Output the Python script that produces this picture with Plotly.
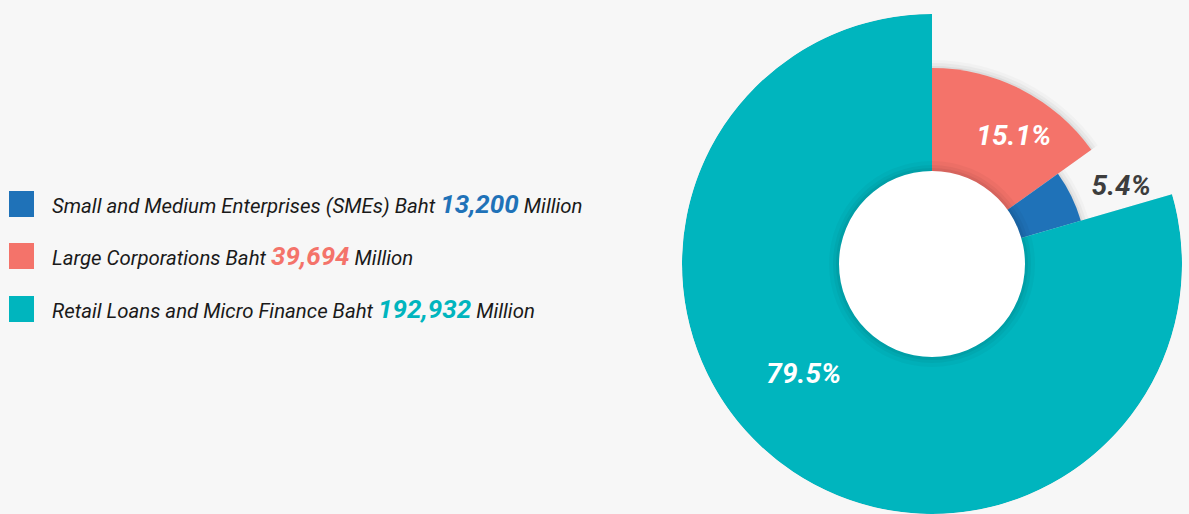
import plotly.graph_objects as go

# legend order
segments = ["Small and Medium Enterprises (SMEs)", "Large Corporations",
            "Retail Loans and Micro Finance"]
amounts = ["13,200", "39,694", "192,932"]
shares = [5.4, 15.1, 79.5]
radii = [155, 196, 250]   # petal length
colors = ["#1f72b8", "#f4736a", "#00b5be"]

# drawing order round the rose (clockwise from 12 o'clock)
draw_order = [1, 0, 2]
hole_r = 93

BG = "#f7f7f7"
FONT = "Roboto, Arial, sans-serif"

fig = go.Figure()

# angular positions from the shares
thetas, widths = {}, {}
start = 0.0
for i in draw_order:
    w = shares[i] / 100 * 360
    thetas[i] = start + w / 2
    widths[i] = w
    start += w

# soft shadow under petals
for k, a in [(8, 0.025), (5, 0.035), (2, 0.05)]:
    fig.add_trace(go.Barpolar(
        r=[radii[i] + k for i in draw_order],
        theta=[thetas[i] for i in draw_order],
        width=[widths[i] for i in draw_order],
        marker=dict(color=f"rgba(0,0,0,{a})", line_width=0),
        hoverinfo="skip", showlegend=False))

for i in draw_order:
    fig.add_trace(go.Barpolar(
        r=[radii[i]], theta=[thetas[i]], width=[widths[i]],
        marker=dict(color=colors[i], line_width=0),
        name=segments[i], showlegend=False))

# hole with a faint halo
for k, a in [(10, 0.03), (6, 0.04), (3, 0.05)]:
    fig.add_trace(go.Barpolar(
        r=[hole_r + k], theta=[180], width=[360],
        marker=dict(color=f"rgba(0,0,0,{a})", line_width=0),
        hoverinfo="skip", showlegend=False))
fig.add_trace(go.Barpolar(
    r=[hole_r], theta=[180], width=[360],
    marker=dict(color="white", line_width=0),
    hoverinfo="skip", showlegend=False))

# percentage labels
label_theta = {0: 68, 1: 33, 2: 229}
label_r = {0: 204, 1: 150, 2: 170}
label_color = {0: "#3d3d3d", 1: "white", 2: "white"}
for i in draw_order:
    fig.add_trace(go.Scatterpolar(
        r=[label_r[i]], theta=[label_theta[i]], mode="text",
        text=[f"<b><i>{shares[i]}%</i></b>"],
        textfont=dict(family=FONT, size=28, color=label_color[i]),
        hoverinfo="skip", showlegend=False))

# custom legend
W, H = 1189, 514
row_y = [204, 256, 309]
for i in range(3):
    y = 1 - row_y[i] / H
    fig.add_shape(type="rect", xref="paper", yref="paper",
                  x0=9 / W, x1=34 / W, y0=y - 13 / H, y1=y + 13 / H,
                  fillcolor=colors[i], line_width=0)
    fig.add_annotation(
        xref="paper", yref="paper", x=50 / W, y=y, xanchor="left",
        yanchor="middle", showarrow=False,
        text=(f"<i>{segments[i]} Baht "
              f"<span style='font-size:26px;color:{colors[i]}'><b>{amounts[i]}</b></span>"
              f" Million</i>"),
        font=dict(family=FONT, size=20.4, color="#1a1a1a"))

fig.update_layout(
    width=W, height=H,
    margin=dict(l=0, r=0, t=0, b=0),
    paper_bgcolor=BG, plot_bgcolor=BG,
    polar=dict(
        domain=dict(x=[682 / W, 1182 / W], y=[0, 500 / H]),
        bgcolor="rgba(0,0,0,0)",
        barmode="overlay",
        bargap=0,
        radialaxis=dict(range=[0, 250], visible=False, showgrid=False),
        angularaxis=dict(direction="clockwise", rotation=90, visible=False,
                         showgrid=False),
    ),
)

fig.write_html(
    "out.html",
    config={"displayModeBar": False},
    post_script="document.body.style.margin='0';"
                "document.body.style.background='#f7f7f7';"
                "document.body.style.overflow='hidden';")
